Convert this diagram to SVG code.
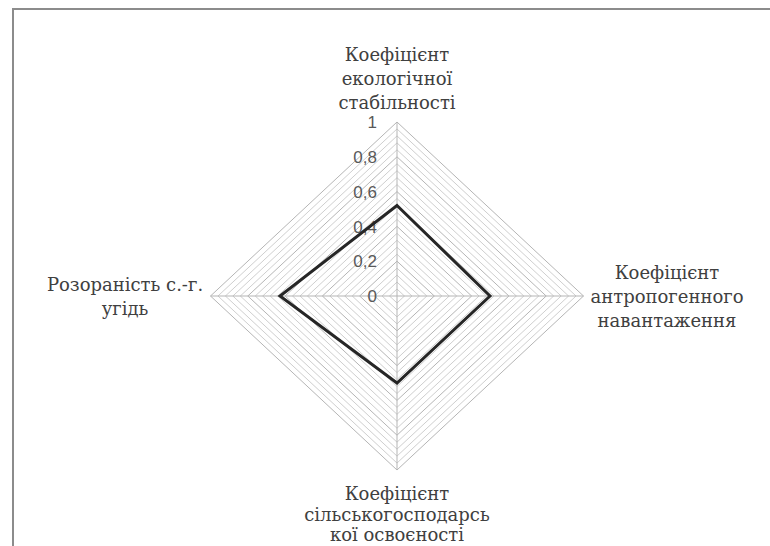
<svg xmlns="http://www.w3.org/2000/svg" width="770" height="546" viewBox="0 0 770 546">
<style>
.minor{fill:none;stroke:#cfcfcf;stroke-width:1}
.major{fill:none;stroke:#b5b5b5;stroke-width:1}
.spoke{stroke:#b5b5b5;stroke-width:1}
.series{fill:none;stroke:#262626;stroke-width:3;stroke-linejoin:miter}
.tick{font-family:"Liberation Sans",Arial,sans-serif;font-size:17px;fill:#595959;text-anchor:end}
.lab{font-family:"DejaVu Serif",serif;font-size:18px;fill:#404040;text-anchor:middle}
.frame{stroke:#8c8c8c;stroke-width:2;fill:none}
</style>
<rect x="0" y="0" width="770" height="546" fill="#ffffff"/>
<path class="frame" d="M13,546 V9 H770"/>
<g id="grid">
<polygon class="minor" points="397,289.04 404.46,296 397,302.96 389.54,296"/>
<polygon class="minor" points="397,282.08 411.92,296 397,309.92 382.08,296"/>
<polygon class="minor" points="397,275.12 419.38,296 397,316.88 374.62,296"/>
<polygon class="minor" points="397,268.16 426.84,296 397,323.84 367.16,296"/>
<polygon class="major" points="397,261.2 434.3,296 397,330.8 359.7,296"/>
<polygon class="minor" points="397,254.24 441.76,296 397,337.76 352.24,296"/>
<polygon class="minor" points="397,247.28 449.22,296 397,344.72 344.78,296"/>
<polygon class="minor" points="397,240.32 456.68,296 397,351.68 337.32,296"/>
<polygon class="minor" points="397,233.36 464.14,296 397,358.64 329.86,296"/>
<polygon class="major" points="397,226.4 471.6,296 397,365.6 322.4,296"/>
<polygon class="minor" points="397,219.44 479.06,296 397,372.56 314.94,296"/>
<polygon class="minor" points="397,212.48 486.52,296 397,379.52 307.48,296"/>
<polygon class="minor" points="397,205.52 493.98,296 397,386.48 300.02,296"/>
<polygon class="minor" points="397,198.56 501.44,296 397,393.44 292.56,296"/>
<polygon class="major" points="397,191.6 508.9,296 397,400.4 285.1,296"/>
<polygon class="minor" points="397,184.64 516.36,296 397,407.36 277.64,296"/>
<polygon class="minor" points="397,177.68 523.82,296 397,414.32 270.18,296"/>
<polygon class="minor" points="397,170.72 531.28,296 397,421.28 262.72,296"/>
<polygon class="minor" points="397,163.76 538.74,296 397,428.24 255.26,296"/>
<polygon class="major" points="397,156.8 546.2,296 397,435.2 247.8,296"/>
<polygon class="minor" points="397,149.84 553.66,296 397,442.16 240.34,296"/>
<polygon class="minor" points="397,142.88 561.12,296 397,449.12 232.88,296"/>
<polygon class="minor" points="397,135.92 568.58,296 397,456.08 225.42,296"/>
<polygon class="minor" points="397,128.96 576.04,296 397,463.04 217.96,296"/>
<polygon class="major" points="397,122 583.5,296 397,470 210.5,296"/>
</g>
<g id="spokes">
<line class="spoke" x1="397" y1="296" x2="397" y2="122"/>
<line class="spoke" x1="397" y1="296" x2="583.5" y2="296"/>
<line class="spoke" x1="397" y1="296" x2="397" y2="470"/>
<line class="spoke" x1="397" y1="296" x2="210.5" y2="296"/>
</g>
<g id="ticks">
<text class="tick" x="377" y="302">0</text>
<text class="tick" x="377" y="267">0,2</text>
<text class="tick" x="377" y="233">0,4</text>
<text class="tick" x="377" y="198">0,6</text>
<text class="tick" x="377" y="163">0,8</text>
<text class="tick" x="377" y="128">1</text>
</g>
<g id="series">
<polygon class="series" points="397,205.5 490,296 397,383 280,296"/>
</g>
<g id="label-top">
<text class="lab" x="397" y="61">Коефіцієнт</text>
<text class="lab" x="397" y="85">екологічної</text>
<text class="lab" x="397" y="109">стабільності</text>
</g>
<g id="label-right">
<text class="lab" x="667" y="279">Коефіцієнт</text>
<text class="lab" x="667" y="303">антропогенного</text>
<text class="lab" x="667" y="327">навантаження</text>
</g>
<g id="label-bottom">
<text class="lab" x="397" y="500">Коефіцієнт</text>
<text class="lab" x="397" y="521">сільськогосподарсь</text>
<text class="lab" x="397" y="541">кої освоєності</text>
</g>
<g id="label-left">
<text class="lab" x="125" y="291">Розораність с.-г.</text>
<text class="lab" x="125" y="315">угідь</text>
</g>
</svg>
